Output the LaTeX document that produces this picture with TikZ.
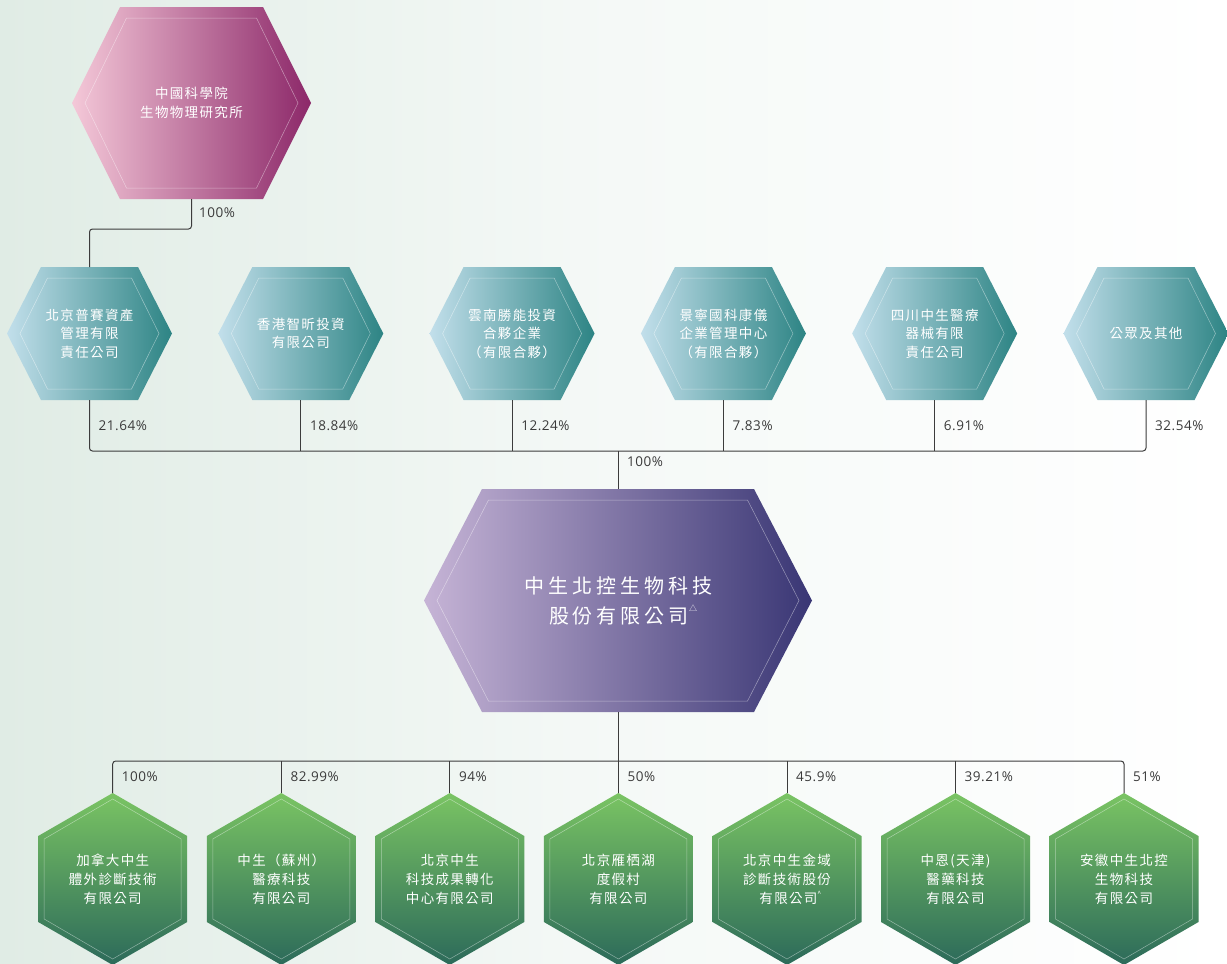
\documentclass[tikz,border=0pt]{standalone}
\usepackage{fontspec}
\newfontfamily\cjk{Noto Sans CJK TC}[LetterSpace=10]
\newfontfamily\cjkbig{Noto Sans CJK TC}[LetterSpace=20]
\newfontfamily\pctfont{Open Sans}[LetterSpace=4]
\usetikzlibrary{calc}
\pgfdeclarelayer{back}
\pgfdeclarelayer{bg}
\pgfsetlayers{back,bg,main}
\definecolor{pinkL}{HTML}{F4C8D8}
\definecolor{pinkR}{HTML}{8C2869}
\definecolor{blueL}{HTML}{C2DFEB}
\definecolor{blueR}{HTML}{2D8484}
\definecolor{purL}{HTML}{C6B4D6}
\definecolor{purR}{HTML}{393674}
\definecolor{grnT}{HTML}{7AC463}
\definecolor{grnB}{HTML}{2C6A5A}
\definecolor{bgL}{HTML}{E0ECE5}
\definecolor{bgM}{HTML}{F5F9F7}
\definecolor{lineC}{HTML}{3C3C3C}
\definecolor{pctC}{HTML}{3A3A3A}
\tikzset{
  hexline/.style={white, opacity=.45, line width=.5pt},
  topbox/.style={minimum width=239pt, minimum height=192pt, inner sep=0pt, outer sep=0pt, text=white, align=center, font=\cjk\fontsize{13.5}{18.5}\selectfont},
  holder/.style={minimum width=165pt, minimum height=133pt, inner sep=0pt, outer sep=0pt, text=white, align=center, font=\cjk\fontsize{13.5}{18.5}\selectfont},
  mainbox/.style={minimum width=388pt, minimum height=223pt, inner sep=0pt, outer sep=0pt, text=white, align=center, font=\cjkbig\fontsize{20}{30}\selectfont},
  subbox/.style={minimum width=149pt, minimum height=172pt, inner sep=0pt, outer sep=0pt, text=white, align=center, font=\cjk\fontsize{13.5}{19}\selectfont},
  conn/.style={draw=lineC, line width=1pt},
  pct/.style={text=pctC, font=\pctfont\fontsize{13.5}{15}\selectfont, anchor=west, inner sep=0pt},
}
% flat hexagon behind node #1: half width #2, half top edge #3, half height #4, colours #5 -> #6
\newcommand\HexF[6]{%
  \begin{pgfonlayer}{bg}
  \begin{scope}[shift={(#1.center)}]
    \shade[left color=#5, right color=#6]
      (-#2,0) -- (-#3,#4) -- (#3,#4) -- (#2,0) -- (#3,-#4) -- (-#3,-#4) -- cycle;
    \draw[hexline]
      ({-(#2-13)},0) -- ({-(#3-6.5)},{#4-11}) -- ({#3-6.5},{#4-11}) -- ({#2-13},0)
      -- ({#3-6.5},{-(#4-11)}) -- ({-(#3-6.5)},{-(#4-11)}) -- cycle;
  \end{scope}
  \end{pgfonlayer}}
% pointy hexagon behind node #1
\newcommand\HexP[1]{%
  \begin{pgfonlayer}{bg}
  \begin{scope}[shift={(#1.center)}]
    \shade[top color=grnT, bottom color=grnB]
      (0,86) -- (74.5,43) -- (74.5,-43) -- (0,-86) -- (-74.5,-43) -- (-74.5,43) -- cycle;
    \draw[hexline]
      (0,80) -- (68.5,40) -- (68.5,-40) -- (0,-80) -- (-68.5,-40) -- (-68.5,40) -- cycle;
  \end{scope}
  \end{pgfonlayer}}
\begin{document}
\begin{tikzpicture}[x=1pt,y=1pt]
\useasboundingbox (0,0) rectangle (1227,-964);
% background
\begin{pgfonlayer}{back}
\shade[left color=bgL, right color=white, middle color=bgM] (0,0) rectangle (1227,-964);
\end{pgfonlayer}

% top
\node[topbox] (top) at (191.5,-103) {中國科學院\\生物物理研究所};
\HexF{top}{119.5}{71.5}{96}{pinkL}{pinkR}

% shareholders
\node[holder] (b1) at (89.5,-333.5)  {北京普賽資產\\管理有限\\責任公司};
\node[holder] (b2) at (300.8,-333.5) {香港智昕投資\\有限公司};
\node[holder] (b3) at (512.1,-333.5) {雲南勝能投資\\合夥企業\\（有限合夥）};
\node[holder] (b4) at (723.4,-333.5) {景寧國科康儀\\企業管理中心\\（有限合夥）};
\node[holder] (b5) at (934.7,-333.5) {四川中生醫療\\器械有限\\責任公司};
\node[holder] (b6) at (1146,-333.5)  {公眾及其他};
\foreach \n in {b1,b2,b3,b4,b5,b6} {\HexF{\n}{82.5}{48.5}{66.5}{blueL}{blueR}}

% main
\node[mainbox] (main) at (618,-600.5) {中生北控生物科技\\\hspace*{0.5em}股份有限公司\raisebox{1.1ex}{\fontsize{8}{8}\selectfont △}};
\HexF{main}{194}{136}{111.5}{purL}{purR}

% subsidiaries
\node[subbox] (g1) at (112.7,-879) {加拿大中生\\體外診斷技術\\有限公司};
\node[subbox] (g2) at (281.3,-879) {中生（蘇州）\\醫療科技\\有限公司};
\node[subbox] (g3) at (449.8,-879) {北京中生\\科技成果轉化\\中心有限公司};
\node[subbox] (g4) at (618.4,-879) {北京雁栖湖\\度假村\\有限公司};
\node[subbox] (g5) at (787,-879)   {北京中生金域\\診斷技術股份\\\hspace*{0.5em}有限公司\raisebox{0.9ex}{\fontsize{7}{7}\selectfont\textasciicircum}};
\node[subbox] (g6) at (955.5,-879) {中恩(天津)\\醫藥科技\\有限公司};
\node[subbox] (g7) at (1124,-879)  {安徽中生北控\\生物科技\\有限公司};
\foreach \n in {g1,g2,g3,g4,g5,g6,g7} {\HexP{\n}}

% connectors
\coordinate (busA) at (618,-451);
\coordinate (busB) at (618,-761);
\draw[conn, rounded corners=3] (top.south) -- ++(0,-30) -| (b1.north);
\draw[conn, rounded corners=3] (b1.south) |- (busA) -| (b6.south);
\foreach \n in {b2,b3,b4,b5} \draw[conn] (\n.south) -- (\n.south |- busA);
\draw[conn] (busA) -- (main.north);
\draw[conn] (main.south) -- (busB);
\draw[conn, rounded corners=3] (g1.north) |- (busB) -| (g7.north);
\foreach \n in {g2,g3,g4,g5,g6} \draw[conn] (\n.north) -- (\n.north |- busB);

% percentages
\node[pct] (p0) at (199,-213) {100\%};
\node[pct] (pb1) at ($(b1.south)+(9,-26)$) {21.64\%};
\node[pct] (pb2) at ($(b2.south)+(9,-26)$) {18.84\%};
\node[pct] (pb3) at ($(b3.south)+(9,-26)$) {12.24\%};
\node[pct] (pb4) at ($(b4.south)+(9,-26)$) {7.83\%};
\node[pct] (pb5) at ($(b5.south)+(9,-26)$) {6.91\%};
\node[pct] (pb6) at ($(b6.south)+(9,-26)$) {32.54\%};
\node[pct] (pm) at (627,-462) {100\%};
\node[pct] (pg1) at ($(g1.north)+(9,16)$) {100\%};
\node[pct] (pg2) at ($(g2.north)+(9,16)$) {82.99\%};
\node[pct] (pg3) at ($(g3.north)+(9,16)$) {94\%};
\node[pct] (pg4) at ($(g4.north)+(9,16)$) {50\%};
\node[pct] (pg5) at ($(g5.north)+(9,16)$) {45.9\%};
\node[pct] (pg6) at ($(g6.north)+(9,16)$) {39.21\%};
\node[pct] (pg7) at ($(g7.north)+(9,16)$) {51\%};
\end{tikzpicture}
\end{document}
